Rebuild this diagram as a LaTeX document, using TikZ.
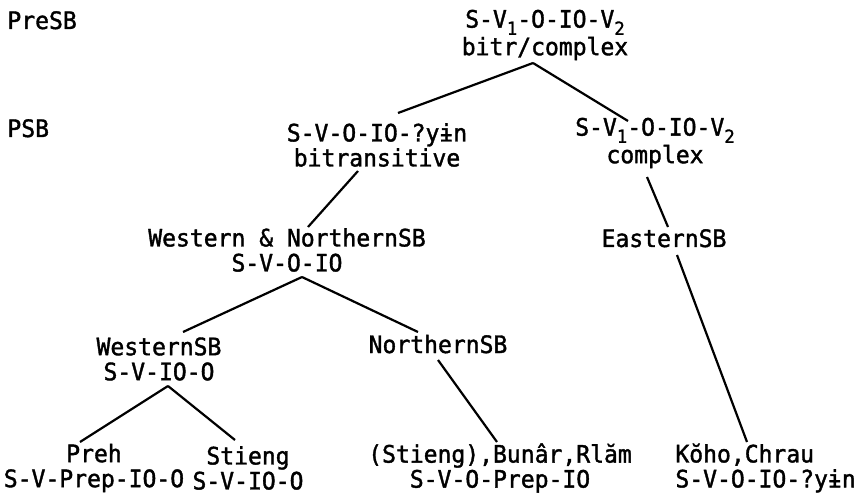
\documentclass[tikz,border=0pt]{standalone}
\usepackage{fontspec}
\setmonofont{DejaVu Sans Mono}[FakeStretch=0.96, FakeBold=1.5]
\usepackage{tikz}
\newcommand{\lowix}[1]{\raisebox{-0.55ex}{\small #1}}
\tikzstyle{lang} = [font=\ttfamily\fontsize{12}{12.5}\selectfont,
align=center,
inner sep=1pt]
\tikzstyle{stage} = [font=\ttfamily\fontsize{12}{12.5}\selectfont,
anchor=base west,
inner sep=0pt]
\tikzstyle{branch} = [line width=1.1pt, black]

\begin{document}
\begin{tikzpicture}[x=0.5pt, y=-0.5pt]
\useasboundingbox (0,0) rectangle (855,496);

% periods
\node (presb) [stage] at (7,29) {PreSB};
\node (psb) [stage] at (7,137) {PSB};

% tree
\node (root) [lang] at (545,35) {S-V\lowix{1}-O-IO-V\lowix{2}\\bitr/complex};
\node (psbl) [lang] at (377,145) {S-V-O-IO-?yɨn\\bitransitive};
\node (psbr) [lang] at (655,143) {S-V\lowix{1}-O-IO-V\lowix{2}\\complex};
\node (wn) [lang] at (287,250) {Western \& NorthernSB\\S-V-O-IO};
\node (eastern) [lang, anchor=base] at (664,247) {EasternSB};
\node (western) [lang] at (159,359) {WesternSB\\S-V-IO-O};
\node (northern) [lang, anchor=base] at (438,353) {NorthernSB};
\node (preh) [lang] at (94,468) {Preh\\S-V-Prep-IO-O};
\node (stieng) [lang] at (248,468) {Stieng\\S-V-IO-O};
\node (bunar) [lang] at (500,468) {(Stieng),Bunâr,Rlăm\\S-V-O-Prep-IO};
\node (koho) [lang, anchor=west, align=left] at (673,468) {Kŏho,Chrau\\S-V-O-IO-?yɨn};

\draw [branch] ([xshift=-6pt,yshift=-14pt]root.center) -- ([xshift=10.5pt,yshift=16pt]psbl.center);
\draw [branch] ([xshift=-6pt,yshift=-14pt]root.center) -- ([xshift=-13.5pt,yshift=11pt]psbr.center);
\draw [branch] ([xshift=-9.5pt,yshift=-13pt]psbl.center) -- ([xshift=10.5pt,yshift=11.5pt]wn.center);
\draw [branch] ([xshift=7.5pt,yshift=-13.5pt]wn.center) -- ([xshift=12pt,yshift=13.5pt]western.center);
\draw [branch] ([xshift=7.5pt,yshift=-13.5pt]wn.center) -- ([xshift=-10pt,yshift=10.5pt]northern.base);
\draw [branch] ([xshift=4.5pt,yshift=-13.5pt]western.center) -- ([xshift=-7pt,yshift=13pt]preh.center);
\draw [branch] ([xshift=4.5pt,yshift=-13.5pt]western.center) -- ([xshift=-6.5pt,yshift=14pt]stieng.center);
\draw [branch] ([yshift=-3.5pt]northern.base) -- ([xshift=-1.5pt,yshift=13pt]bunar.center);
\draw [branch] ([xshift=-4pt,yshift=-17pt]psbr.center) -- ([xshift=2pt,yshift=10pt]eastern.base);
\draw [branch] ([xshift=6.5pt,yshift=-4pt]eastern.base) -- ([xshift=37pt,yshift=13pt]koho.west);

\end{tikzpicture}
\end{document}
